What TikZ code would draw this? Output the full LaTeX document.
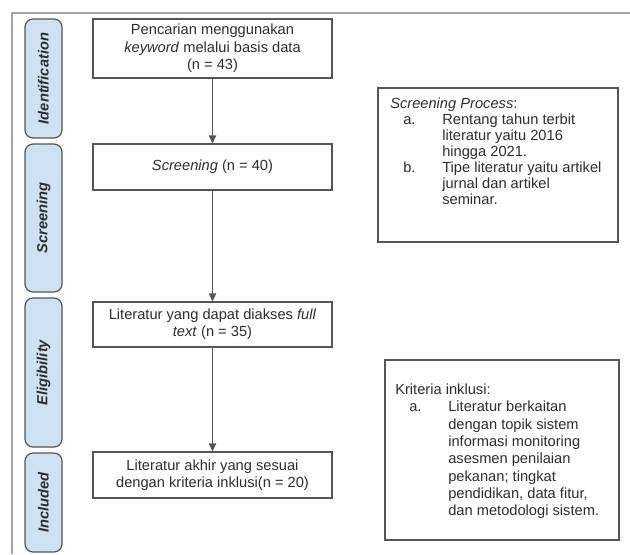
\documentclass[tikz,border=0pt]{standalone}
\usepackage{fontspec}
\setmainfont{Liberation Sans}
\usepackage{tikz}
\usetikzlibrary{arrows.meta,positioning}
\definecolor{faseBiru}{RGB}{207, 226, 243}
\definecolor{garis}{RGB}{85, 85, 85}
\definecolor{bingkai}{RGB}{165, 165, 165}
\definecolor{tinta}{RGB}{45, 45, 45}

\begin{document}
\begin{tikzpicture}[x=0.75pt,y=-0.75pt,>={Triangle[length=6pt,width=5.5pt]},
    fase/.style={draw=garis,fill=faseBiru,line width=0.9pt,rounded corners=6pt,
      rotate=90,minimum height=27.75pt,inner sep=0pt,text=tinta,
      font=\fontsize{11}{13}\selectfont\bfseries\itshape},
    kotak/.style={draw=garis,line width=0.9pt,minimum width=179.25pt,inner sep=0pt,
      align=center,text=tinta,font=\fontsize{11}{13}\selectfont},
    keterangan/.style={draw=garis,line width=0.9pt,inner sep=0pt},
    isi/.style={anchor=north west,inner sep=0pt,align=left,text=tinta},
    panah/.style={->,garis,line width=0.9pt}]
  \useasboundingbox (0,0) rectangle (630,554);
  % bingkai luar
  \draw[bingkai,line width=0.8pt] (12,554) -- (12,13) -- (630,13);

  % fase
  \node[fase,minimum width=89.25pt] (fIdent) at (43.5,78.5) {Identification};
  \node[fase,minimum width=111pt] (fScreen) at (43.5,218) {Screening};
  \node[fase,minimum width=111.75pt] (fElig) at (43.5,372.5) {Eligibility};
  \node[fase,minimum width=74.25pt] (fIncl) at (43.5,502.5) {Included};

  % alur utama
  \node[kotak,minimum height=44.25pt] (cari) at (212.5,48.5)
    {Pencarian menggunakan\\\textit{keyword} melalui basis data\\(n = 43)};
  \node[kotak,minimum height=34.5pt] (saring) at (212.5,167)
    {\textit{Screening} (n = 40)};
  \node[kotak,minimum height=33.75pt] (akses) at (212.5,324.5)
    {Literatur yang dapat diakses \textit{full}\\\textit{text} (n = 35)};
  \node[kotak,minimum height=34.5pt] (akhir) at (212.5,475)
    {Literatur akhir yang sesuai\\dengan kriteria inklusi(n = 20)};

  \draw[panah] (cari) -- (saring);
  \draw[panah] (saring) -- (akses);
  \draw[panah] (akses) -- (akhir);

  % keterangan kanan
  \node[keterangan,minimum width=180pt,minimum height=115.5pt] (proses) at (498,165) {};
  \node[isi] (prosesIsi) at (390,97) {\fontsize{11}{12}\selectfont
    \begin{tabular}{@{\hspace{9.75pt}}p{29.25pt}@{}l@{}}
      \multicolumn{2}{@{}l@{}}{\textit{Screening Process}:}\\
      a. & Rentang tahun terbit\\
         & literatur yaitu 2016\\
         & hingga 2021.\\
      b. & Tipe literatur yaitu artikel\\
         & jurnal dan artikel\\
         & seminar.
    \end{tabular}};

  \node[keterangan,minimum width=175.5pt,minimum height=135pt] (kriteria) at (502,450) {};
  \node[isi] (kriteriaIsi) at (395,382) {\fontsize{11}{13}\selectfont
    \begin{tabular}{@{\hspace{10.5pt}}p{29.25pt}@{}l@{}}
      \multicolumn{2}{@{}l@{}}{Kriteria inklusi:}\\
      a. & Literatur berkaitan\\
         & dengan topik sistem\\
         & informasi monitoring\\
         & asesmen penilaian\\
         & pekanan; tingkat\\
         & pendidikan, data fitur,\\
         & dan metodologi sistem.
    \end{tabular}};
\end{tikzpicture}
\end{document}
